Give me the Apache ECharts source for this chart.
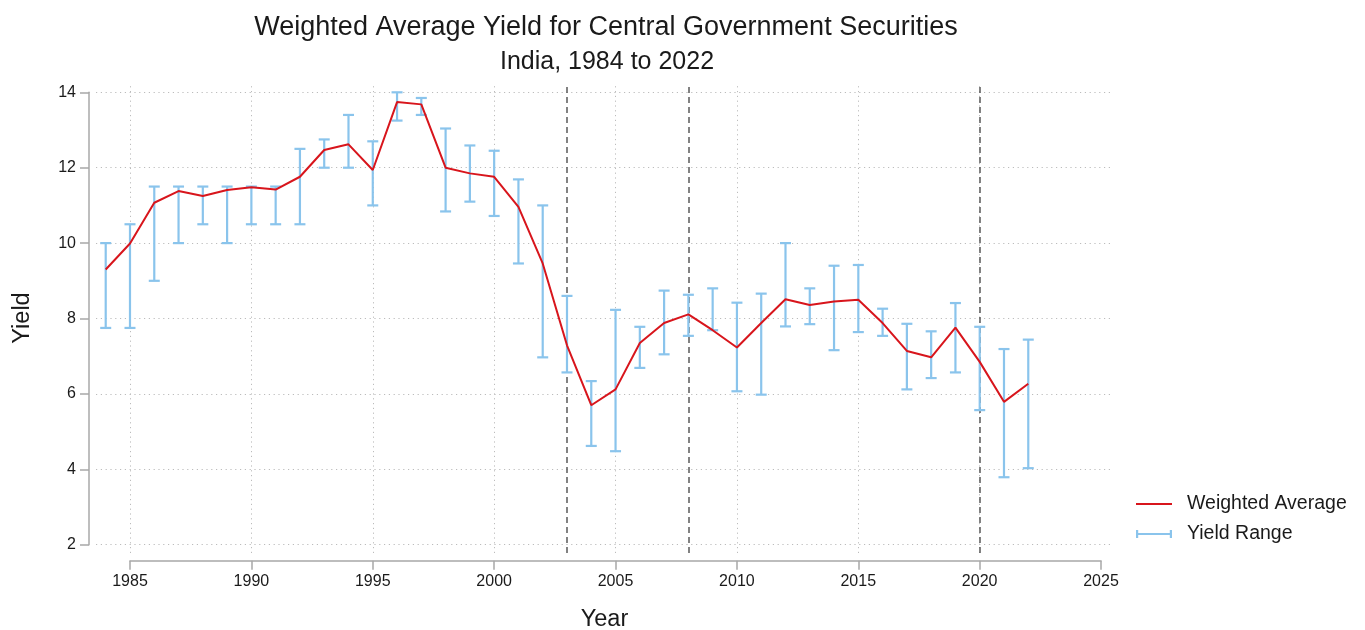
<!DOCTYPE html>
<html>
<head>
<meta charset="utf-8">
<title>Weighted Average Yield for Central Government Securities</title>
<script src="https://cdn.jsdelivr.net/npm/echarts@6/dist/echarts.min.js"></script>
<style>
  html, body { margin: 0; padding: 0; background: #ffffff; }
  #chart { width: 1365px; height: 630px; }
</style>
</head>
<body>
<div id="chart"></div>
<script>
// Weighted average yield and yield range of central government securities, India
const years = [1984, 1985, 1986, 1987, 1988, 1989, 1990, 1991, 1992, 1993,
  1994, 1995, 1996, 1997, 1998, 1999, 2000, 2001, 2002, 2003,
  2004, 2005, 2006, 2007, 2008, 2009, 2010, 2011, 2012, 2013,
  2014, 2015, 2016, 2017, 2018, 2019, 2020, 2021, 2022];

const weightedAverage = [9.30, 9.99, 11.07, 11.38, 11.25, 11.41, 11.48, 11.42, 11.76, 12.47,
  12.62, 11.94, 13.74, 13.68, 12.00, 11.85, 11.76, 10.96, 9.46, 7.29,
  5.70, 6.12, 7.35, 7.88, 8.11, 7.69, 7.23, 7.88, 8.51, 8.36,
  8.45, 8.50, 7.88, 7.14, 6.97, 7.76, 6.85, 5.79, 6.27];

const rangeLow = [7.75, 7.75, 9.00, 10.00, 10.50, 10.00, 10.50, 10.50, 10.50, 12.00,
  12.00, 11.00, 13.25, 13.40, 10.84, 11.10, 10.72, 9.46, 6.97, 6.57,
  4.62, 4.48, 6.69, 7.05, 7.54, 7.69, 6.07, 5.98, 7.79, 7.85,
  7.16, 7.64, 7.54, 6.12, 6.42, 6.57, 5.57, 3.79, 4.03];

const rangeHigh = [10.00, 10.50, 11.50, 11.50, 11.50, 11.50, 11.50, 11.50, 12.50, 12.75,
  13.40, 12.70, 14.00, 13.85, 13.04, 12.59, 12.45, 11.69, 11.00, 8.60,
  6.34, 8.23, 7.78, 8.74, 8.63, 8.80, 8.42, 8.66, 10.00, 8.80,
  9.40, 9.42, 8.26, 7.86, 7.66, 8.41, 7.78, 7.19, 7.44];

// Axis ticks, gridlines and reference years
const yTicks = [2, 4, 6, 8, 10, 12, 14];
const xGridYears = [1985, 1990, 1995, 2000, 2005, 2010, 2015, 2020];
const markerYears = [2003, 2008, 2020];

const AVG_COLOR = '#d8151c';
const RANGE_COLOR = '#8ac4ec';
const AXIS_COLOR = '#a8a8a8';
const TEXT_COLOR = '#1a1a1a';
const FONT = '"Liberation Sans", Arial, Helvetica, sans-serif';

const chart = echarts.init(document.getElementById('chart'), null, { renderer: 'canvas' });

const rangeData = years.map((y, i) => [y, rangeLow[i], rangeHigh[i]]);
const avgData = years.map((y, i) => [y, weightedAverage[i]]);

function renderRange(params, api) {
  const x = api.value(0);
  const pLo = api.coord([x, api.value(1)]);
  const pHi = api.coord([x, api.value(2)]);
  const cap = 5.5;
  const style = { stroke: RANGE_COLOR, lineWidth: 2.2 };
  return {
    type: 'group',
    children: [
      { type: 'line', shape: { x1: pHi[0], y1: pHi[1], x2: pLo[0], y2: pLo[1] }, style },
      { type: 'line', shape: { x1: pHi[0] - cap, y1: pHi[1], x2: pHi[0] + cap, y2: pHi[1] }, style },
      { type: 'line', shape: { x1: pLo[0] - cap, y1: pLo[1], x2: pLo[0] + cap, y2: pLo[1] }, style }
    ]
  };
}

const gridLineStyle = { color: '#bcbcbc', width: 1, type: [1.2, 3.6] };

const option = {
  animation: false,
  backgroundColor: '#ffffff',
  textStyle: { fontFamily: FONT, color: TEXT_COLOR },
  title: [
    {
      text: 'Weighted Average Yield for Central Government Securities',
      left: 601, top: 9, textAlign: 'center',
      textStyle: { fontSize: 27, fontWeight: 'normal', color: TEXT_COLOR, fontFamily: FONT }
    },
    {
      text: 'India, 1984 to 2022',
      left: 602, top: 45, textAlign: 'center',
      textStyle: { fontSize: 25, fontWeight: 'normal', color: TEXT_COLOR, fontFamily: FONT }
    }
  ],
  legend: {
    orient: 'vertical',
    left: 1136, top: 494, padding: 0,
    itemWidth: 36, itemHeight: 8, itemGap: 10,
    selectedMode: false,
    textStyle: { fontSize: 19.5, color: TEXT_COLOR, fontFamily: FONT, lineHeight: 20, padding: [0, 0, 0, 10] },
    data: [
      { name: 'Weighted Average', icon: 'path://M0,0h36v2h-36z', itemStyle: { color: AVG_COLOR } },
      { name: 'Yield Range', icon: 'path://M0,0h2.2v8h-2.2z M0,3h36v2h-36z M33.8,0h2.2v8h-2.2z', itemStyle: { color: RANGE_COLOR } }
    ]
  },
  grid: [
    // plot region
    { left: 96, top: 83, width: 1017, height: 470, outerBoundsMode: 'none', containLabel: false },
    // y axis ruler
    { left: 89, top: 92.3, width: 1, height: 452.4, outerBoundsMode: 'none', containLabel: false },
    // x axis ruler
    { left: 130, top: 500, width: 971, height: 60.7, outerBoundsMode: 'none', containLabel: false }
  ],
  xAxis: [
    {
      type: 'value', gridIndex: 0, min: 1983.6, max: 2025.49,
      axisLine: { show: false }, axisTick: { show: false }, axisLabel: { show: false }, splitLine: { show: false },
      name: 'Year', nameLocation: 'middle', nameGap: 55,
      nameTextStyle: { fontSize: 23.5, color: TEXT_COLOR, fontFamily: FONT }
    },
    {
      type: 'value', gridIndex: 2, min: 1985, max: 2025, interval: 5,
      axisLine: { show: true, lineStyle: { color: AXIS_COLOR, width: 1.5 } },
      axisTick: { show: true, length: 9, lineStyle: { color: AXIS_COLOR, width: 1.5 } },
      axisLabel: { show: true, fontSize: 16, color: TEXT_COLOR, margin: 13, fontFamily: FONT, formatter: v => String(v) },
      splitLine: { show: false }
    },
    { type: 'value', gridIndex: 1, show: false, min: 0, max: 1 }
  ],
  yAxis: [
    {
      type: 'value', gridIndex: 0, min: 1.78, max: 14.247,
      axisLine: { show: false }, axisTick: { show: false }, axisLabel: { show: false }, splitLine: { show: false },
      name: 'Yield', nameLocation: 'middle', nameGap: 61,
      nameTextStyle: { fontSize: 23.5, color: TEXT_COLOR, fontFamily: FONT }
    },
    { type: 'value', gridIndex: 2, show: false, min: 0, max: 1 },
    {
      type: 'value', gridIndex: 1, min: yTicks[0], max: yTicks[yTicks.length - 1], interval: 2,
      axisLine: { show: true, lineStyle: { color: AXIS_COLOR, width: 1.5 } },
      axisTick: { show: true, length: 9, lineStyle: { color: AXIS_COLOR, width: 1.5 } },
      axisLabel: { show: true, fontSize: 16, color: TEXT_COLOR, margin: 13, fontFamily: FONT },
      splitLine: { show: false }
    }
  ],
  series: [
    {
      // dotted grid and dashed reference years, kept beneath the data
      name: 'guides', type: 'line', xAxisIndex: 0, yAxisIndex: 0, data: [], z: 0,
      silent: true,
      markLine: {
        silent: true, symbol: 'none', z: 0, animation: false,
        label: { show: false },
        emphasis: { disabled: true },
        data: [
          ...yTicks.map(v => ({ yAxis: v, lineStyle: gridLineStyle })),
          ...xGridYears.map(v => ({ xAxis: v, lineStyle: gridLineStyle })),
          ...markerYears.map(v => ({ xAxis: v, lineStyle: { color: '#5a5a5a', width: 1.5, type: [6, 4] } }))
        ]
      }
    },
    {
      name: 'Yield Range', type: 'custom', xAxisIndex: 0, yAxisIndex: 0, z: 2,
      renderItem: renderRange,
      encode: { x: 0, y: [1, 2] },
      itemStyle: { color: RANGE_COLOR },
      data: rangeData
    },
    {
      name: 'Weighted Average', type: 'line', xAxisIndex: 0, yAxisIndex: 0, z: 3,
      symbol: 'none',
      lineStyle: { color: AVG_COLOR, width: 2 },
      itemStyle: { color: AVG_COLOR },
      data: avgData
    }
  ]
};

chart.setOption(option);
</script>
</body>
</html>
